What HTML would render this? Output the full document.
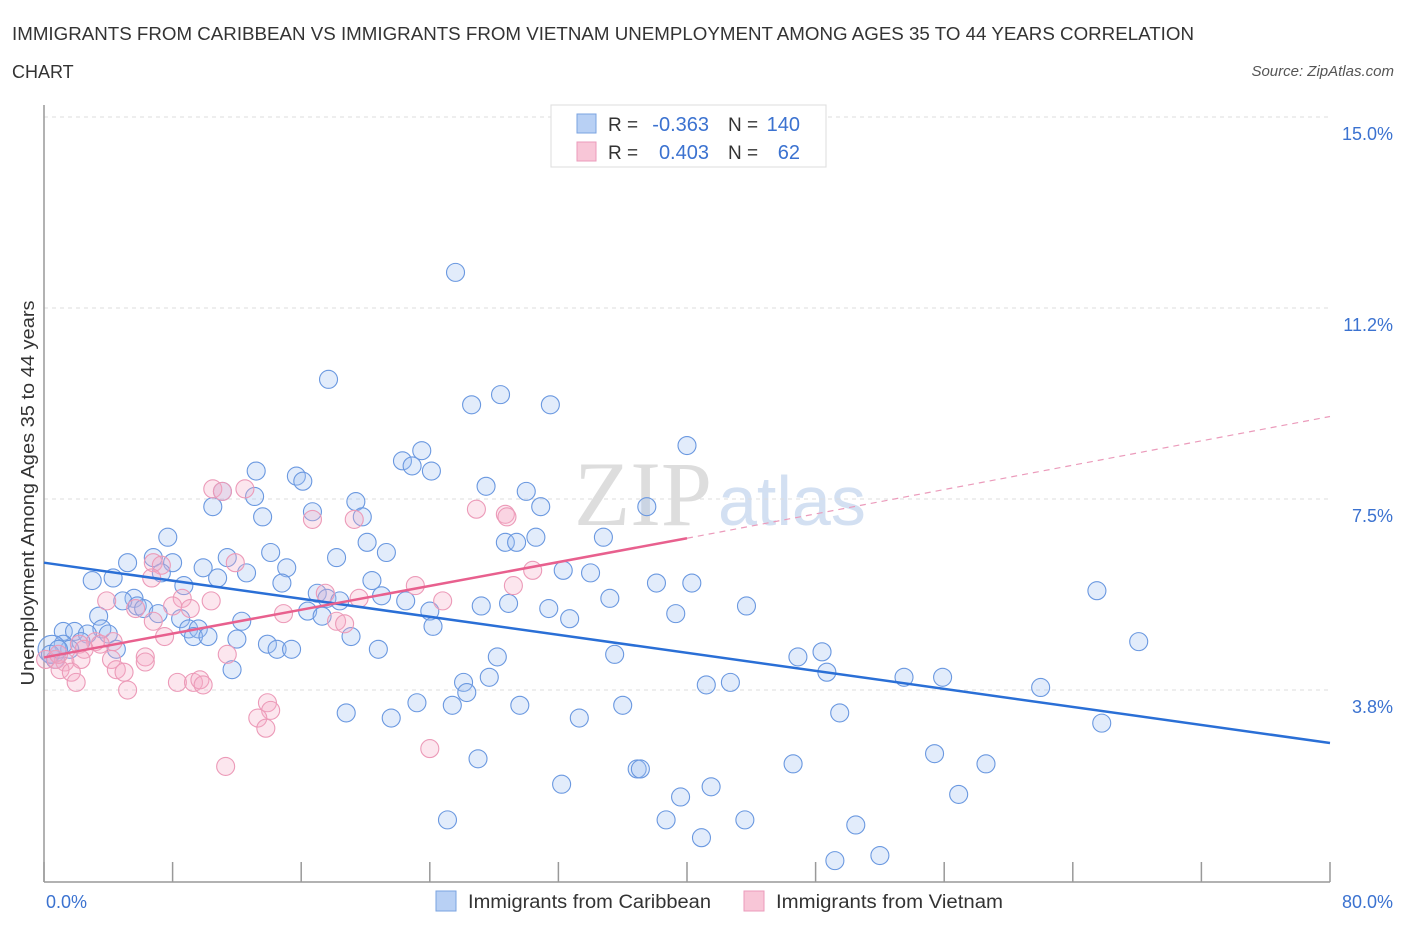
<!DOCTYPE html>
<html><head><meta charset="utf-8"><style>
body{margin:0;background:#fff;font-family:"Liberation Sans",sans-serif;}
</style></head><body>
<svg width="1406" height="930" xmlns="http://www.w3.org/2000/svg" id="chart">
<text x="12" y="40" font-size="18" fill="#333" textLength="1182" lengthAdjust="spacingAndGlyphs">IMMIGRANTS FROM CARIBBEAN VS IMMIGRANTS FROM VIETNAM UNEMPLOYMENT AMONG AGES 35 TO 44 YEARS CORRELATION</text>
<text x="12" y="78" font-size="18" fill="#333">CHART</text>
<text x="1394" y="76" font-size="15" fill="#555" font-style="italic" text-anchor="end">Source: ZipAtlas.com</text>
<text x="712" y="525" font-size="92" fill="#ddd" font-family="Liberation Serif" text-anchor="end">ZIP</text>
<text x="718" y="525" font-size="70" fill="#d3e0f2">atlas</text>
<g id="grid"></g><g id="xticks"></g>
<line x1="44" y1="105" x2="44" y2="882" stroke="#999" stroke-width="1.5"/>
<line x1="44" y1="882" x2="1330" y2="882" stroke="#999" stroke-width="1.5"/>
<g id="pts"></g><g id="lines"></g>
<text x="34" y="493" font-size="18" fill="#333" text-anchor="middle" textLength="385" lengthAdjust="spacingAndGlyphs" transform="rotate(-90 34 493)">Unemployment Among Ages 35 to 44 years</text>
<text x="46" y="908" font-size="18" fill="#3b72d0">0.0%</text>
<text x="1393" y="908" font-size="18" fill="#3b72d0" text-anchor="end">80.0%</text>
<g>
<rect x="551" y="105" width="275" height="62" fill="#fff" stroke="#ddd"/>
<rect x="577" y="114" width="19" height="19" fill="#b8d0f4" stroke="#7aa3e0"/>
<rect x="577" y="142" width="19" height="19" fill="#f8c6d7" stroke="#eb9bbb"/>
<text x="608" y="131" font-size="19" fill="#333">R =</text>
<text x="709" y="131" font-size="20" fill="#3b72d0" text-anchor="end">-0.363</text>
<text x="728" y="131" font-size="19" fill="#333">N =</text>
<text x="800" y="131" font-size="20" fill="#3b72d0" text-anchor="end">140</text>
<text x="608" y="159" font-size="19" fill="#333">R =</text>
<text x="709" y="159" font-size="20" fill="#3b72d0" text-anchor="end">0.403</text>
<text x="728" y="159" font-size="19" fill="#333">N =</text>
<text x="800" y="159" font-size="20" fill="#3b72d0" text-anchor="end">62</text>
</g>
<rect x="436" y="891" width="20" height="20" fill="#b8d0f4" stroke="#7aa3e0"/>
<text x="468" y="908" font-size="19" fill="#333" textLength="243" lengthAdjust="spacingAndGlyphs">Immigrants from Caribbean</text>
<rect x="744" y="891" width="20" height="20" fill="#f8c6d7" stroke="#eb9bbb"/>
<text x="776" y="908" font-size="19" fill="#333" textLength="227" lengthAdjust="spacingAndGlyphs">Immigrants from Vietnam</text>
</svg>
<script>
const yTicks=[15,11.25,7.5,3.75];
const yTickLabels=["15.0%","11.2%","7.5%","3.8%"];
const xTicks=[0,8,16,24,32,40,48,56,64,72,80];
const blueX=[25.6,17.7,26.6,28.4,31.5,40.0,23.5,22.3,22.9,24.1,13.2,15.7,16.1,11.1,10.5,13.1,27.5,30.0,19.4,16.7,19.8,13.6,30.9,37.5,28.7,29.4,30.6,34.8,20.1,21.3,18.2,14.1,11.4,7.7,6.8,5.2,8.0,9.9,12.6,15.1,7.3,3.0,4.3,8.7,10.8,14.8,20.4,32.3,34.0,38.1,40.3,5.6,4.9,17.0,17.6,18.4,21.0,22.5,35.2,65.5,5.8,6.2,7.1,8.5,12.3,16.4,17.3,24.0,27.2,28.9,31.4,32.7,39.3,43.7,3.4,3.6,9.0,9.6,24.2,1.2,1.9,2.7,4.0,9.3,10.2,12.0,19.1,68.1,1.2,2.3,1.6,4.5,13.9,14.5,15.4,20.8,35.5,28.2,46.9,48.4,48.7,11.7,27.7,26.1,26.3,41.2,42.7,53.5,55.9,62.0,23.2,25.4,29.6,36.0,18.8,21.6,33.3,49.5,65.8,55.4,27.0,46.6,58.6,36.9,37.1,32.2,41.5,39.6,56.9,25.1,38.7,43.6,50.5,40.9,49.2,52.0,0.5,0.7,0.4,0.9];
const blueY=[11.95,9.85,9.35,9.55,9.35,8.55,8.45,8.25,8.15,8.05,8.05,7.95,7.85,7.65,7.35,7.55,7.75,7.65,7.45,7.25,7.15,7.15,7.35,7.35,6.65,6.65,6.75,6.75,6.65,6.45,6.35,6.45,6.35,6.75,6.35,6.25,6.25,6.15,6.05,6.15,6.05,5.9,5.95,5.8,5.95,5.85,5.9,6.1,6.05,5.85,5.85,5.55,5.5,5.65,5.55,5.5,5.6,5.5,5.55,5.7,5.4,5.35,5.25,5.15,5.1,5.3,5.2,5.3,5.4,5.45,5.35,5.15,5.25,5.4,5.2,4.95,4.95,4.95,5.0,4.9,4.9,4.85,4.85,4.8,4.8,4.75,4.8,4.7,4.65,4.7,4.55,4.55,4.65,4.55,4.55,4.55,4.45,4.4,4.4,4.5,4.1,4.15,4.0,3.9,3.7,3.85,3.9,4.0,4.0,3.8,3.5,3.45,3.45,3.45,3.3,3.2,3.2,3.3,3.1,2.5,2.4,2.3,2.3,2.2,2.2,1.9,1.85,1.65,1.7,1.2,1.2,1.2,1.1,0.85,0.4,0.5,4.55,4.35,4.45,4.55];
const pinkX=[12.5,10.5,11.1,16.7,19.3,26.9,28.7,28.8,11.9,6.8,7.3,30.4,6.7,23.1,29.2,17.5,8.6,3.9,10.4,19.6,24.8,8.0,9.1,5.7,14.9,6.8,18.2,18.7,7.5,3.2,4.3,2.2,3.5,2.5,11.4,6.3,6.3,0.75,1.3,2.3,4.2,4.5,1.0,1.7,4.98,2.0,8.3,9.3,9.7,9.9,5.2,13.9,14.1,13.3,13.8,24.0,11.3,0.1,0.9];
const pinkY=[7.7,7.7,7.65,7.1,7.1,7.3,7.2,7.15,6.25,6.25,6.2,6.1,5.95,5.8,5.8,5.65,5.55,5.5,5.5,5.55,5.5,5.4,5.35,5.35,5.25,5.1,5.1,5.05,4.8,4.7,4.7,4.65,4.65,4.55,4.45,4.4,4.3,4.35,4.3,4.35,4.35,4.15,4.15,4.1,4.1,3.9,3.9,3.9,3.95,3.85,3.75,3.5,3.35,3.2,3.0,2.6,2.25,4.35,4.45];
const blueTrendX=[0,80], blueTrendY=[6.25,2.71];
const pinkTrendX=[0,40,80], pinkTrendY=[4.39,6.73,9.12];
const NS="http://www.w3.org/2000/svg";
const xs=v=>44+v*(1330-44)/80;
const ys=v=>881-v*50.93;
function mk(t,a,p){const e=document.createElementNS(NS,t);for(const k in a)e.setAttribute(k,a[k]);p.appendChild(e);return e;}
const grid=document.getElementById('grid');
yTicks.forEach((v,i)=>{
 const l=mk('line',{x1:44,x2:1330,y1:ys(v),y2:ys(v),stroke:'#ddd','stroke-dasharray':'4,4'},grid);
 
 
 const t=mk('text',{x:1393,y:ys(v)+23,'font-size':18,fill:'#3b72d0','text-anchor':'end'},grid);
 t.textContent=yTickLabels[i];
 
 
});
const xt=document.getElementById('xticks');
xTicks.forEach(v=>{
 const l=mk('line',{x1:xs(v),x2:xs(v),y1:862,y2:882,stroke:'#999','stroke-width':1.5},xt);
 
 
});
const pts=document.getElementById('pts');
blueX.forEach((v,i)=>{
 const r=(i==blueX.length-4)?14:9;
 const c=mk('circle',{cx:xs(v),cy:ys(blueY[i]),r:r,fill:'rgba(160,192,242,0.3)',stroke:'#6a98e0','stroke-width':1.1},pts);
 
 
});
pinkX.forEach((v,i)=>{
 const c=mk('circle',{cx:xs(v),cy:ys(pinkY[i]),r:9,fill:'rgba(246,172,200,0.3)',stroke:'#ec9ab8','stroke-width':1.1},pts);
 
 
});
const ln=document.getElementById('lines');
const b=mk('line',{x1:xs(blueTrendX[0]),y1:ys(blueTrendY[0]),x2:xs(blueTrendX[1]),y2:ys(blueTrendY[1]),stroke:'#2a6fd6','stroke-width':2.5},ln);


const p1=mk('line',{x1:xs(pinkTrendX[0]),y1:ys(pinkTrendY[0]),x2:xs(pinkTrendX[1]),y2:ys(pinkTrendY[1]),stroke:'#e8608e','stroke-width':2.5},ln);


const p2=mk('line',{x1:xs(pinkTrendX[1]),y1:ys(pinkTrendY[1]),x2:xs(pinkTrendX[2]),y2:ys(pinkTrendY[2]),stroke:'#eb9bbb','stroke-width':1.2,'stroke-dasharray':'6,5'},ln);


</script>
</body></html>
